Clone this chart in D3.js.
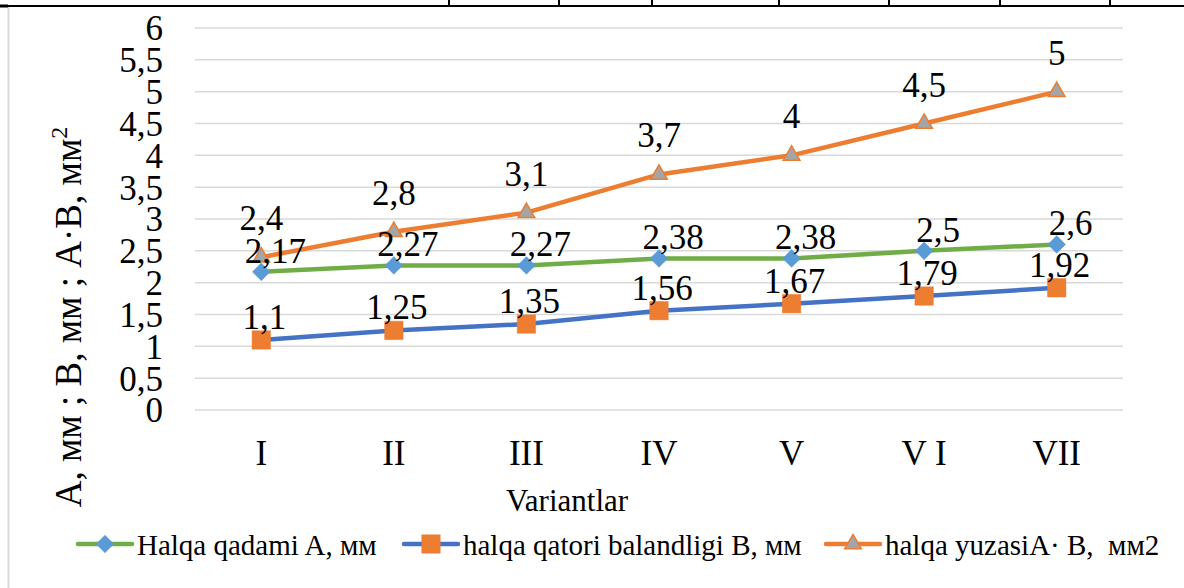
<!DOCTYPE html>
<html>
<head>
<meta charset="utf-8">
<script src="https://cdn.jsdelivr.net/npm/d3@7"></script>
<style>
  html, body { margin: 0; padding: 0; background: #fff; }
  svg { display: block; }
  svg text { font-family: "Liberation Serif", "Times New Roman", serif; }
</style>
</head>
<body>
<svg id="chart" width="1184" height="588"></svg>
<script>
// ---- data ----
const categories = ["I", "II", "III", "IV", "V", "V I", "VII"];
const seriesA = [2.17, 2.27, 2.27, 2.38, 2.38, 2.5, 2.6];        // Halqa qadami A, мм
const seriesB = [1.1, 1.25, 1.35, 1.56, 1.67, 1.79, 1.92];       // halqa qatori balandligi B, мм
const seriesAB = [2.4, 2.8, 3.1, 3.7, 4, 4.5, 5];                // halqa yuzasi A·B, мм2
const yTicks = [0, 0.5, 1, 1.5, 2, 2.5, 3, 3.5, 4, 4.5, 5, 5.5, 6];
const seriesNames = ["Halqa qadami A, мм", "halqa qatori balandligi B, мм", "halqa yuzasiA· B,  мм2"];
const xTitle = "Variantlar";

const SERIF = "'Liberation Serif', 'Times New Roman', serif";
const svg = d3.select("#chart");
const W = 1184, H = 588;

// decorative table border above the chart
svg.append("rect").attr("x", 0).attr("y", 0).attr("width", W).attr("height", H).attr("fill", "#fff");
svg.append("line").attr("x1", 8.5).attr("x2", 8.5).attr("y1", 6).attr("y2", H)
  .attr("stroke", "#d9d9d9").attr("stroke-width", 2);
svg.append("line").attr("x1", 0).attr("x2", W).attr("y1", 6).attr("y2", 6)
  .attr("stroke", "#000").attr("stroke-width", 2);
svg.append("line").attr("x1", 0).attr("x2", 8).attr("y1", 6).attr("y2", 6)
  .attr("stroke", "#000").attr("stroke-width", 3);
[449, 559, 652, 779, 889, 1000, 1110].forEach(xx => {
  svg.append("line").attr("x1", xx).attr("x2", xx).attr("y1", 0).attr("y2", 6)
    .attr("stroke", "#000").attr("stroke-width", 2);
});

// scales
const x = d3.scaleBand().domain(categories).range([195, 1123]);
const cx = c => x(c) + x.bandwidth() / 2;
const y = d3.scaleLinear().domain([0, 6]).range([410, 28]);

// gridlines
svg.append("g").selectAll("line").data(yTicks).join("line")
  .attr("x1", 195).attr("x2", 1123)
  .attr("y1", d => y(d)).attr("y2", d => y(d))
  .attr("stroke", "#d9d9d9").attr("stroke-width", 1.5);

const fmt = v => String(v).replace(".", ",");

// y tick labels
const yAxis = d3.axisLeft(y).tickValues(yTicks).tickFormat(fmt).tickSize(0).tickPadding(0);
const gy = svg.append("g").attr("transform", "translate(163,0)").call(yAxis);
gy.attr("font-family", null).attr("font-size", null);
gy.select(".domain").remove();
gy.selectAll("text").attr("font-size", 35).attr("fill", "#000")
  .style("font-family", SERIF).attr("dy", "0.34em");

// x tick labels
const xAxis = d3.axisBottom(x).tickSize(0).tickPadding(0);
const gx = svg.append("g").attr("transform", "translate(0,440)").call(xAxis);
gx.attr("font-family", null).attr("font-size", null);
gx.select(".domain").remove();
gx.selectAll("text").attr("font-size", 35).attr("fill", "#000")
  .style("font-family", SERIF).attr("dy", "0.72em");

// axis titles
svg.append("text").attr("x", 567).attr("y", 511).attr("text-anchor", "middle")
  .attr("font-size", 31).attr("fill", "#000").style("font-family", SERIF).text(xTitle);

const yt = svg.append("text")
  .attr("transform", "translate(81,317) rotate(-90)")
  .attr("text-anchor", "middle").attr("font-size", 37).attr("fill", "#000")
  .style("font-family", SERIF);
yt.append("tspan").text("A, мм ; B, мм ; A·B, мм");
yt.append("tspan").attr("font-size", 24).attr("dy", "-0.6em").text("2");

// series
const series = [
  { name: seriesNames[0], values: seriesA, line: "#70AD47", marker: "diamond", fill: "#5B9BD5", stroke: "#5B9BD5", ldx: 14, ldy: -9 },
  { name: seriesNames[1], values: seriesB, line: "#4472C4", marker: "square", fill: "#ED7D31", stroke: "#ED7D31", ldx: 3, ldy: -11 },
  { name: seriesNames[2], values: seriesAB, line: "#ED7D31", marker: "triangle", fill: "#A5A5A5", stroke: "#ED7D31", ldx: 0, ldy: -27 }
];

function markerPath(type) {
  if (type === "diamond") return d3.symbol().type(d3.symbolDiamond2).size(200)();
  if (type === "square") return d3.symbol().type(d3.symbolSquare).size(340)();
  return d3.symbol().type(d3.symbolTriangle).size(120)();
}

const lineGen = d3.line().x((d, i) => cx(categories[i])).y(d => y(d));

series.forEach(s => {
  svg.append("path").datum(s.values).attr("d", lineGen)
    .attr("fill", "none").attr("stroke", s.line).attr("stroke-width", 4.5)
    .attr("stroke-linejoin", "round").attr("stroke-linecap", "round");
});
series.forEach(s => {
  svg.append("g").selectAll("path").data(s.values).join("path")
    .attr("d", markerPath(s.marker))
    .attr("transform", (d, i) => `translate(${cx(categories[i])},${y(d)})`)
    .attr("fill", s.fill).attr("stroke", s.stroke).attr("stroke-width", s.marker === "triangle" ? 1.5 : 0.5);
});
series.forEach(s => {
  svg.append("g").selectAll("text").data(s.values).join("text")
    .attr("x", (d, i) => cx(categories[i]) + s.ldx)
    .attr("y", d => y(d) + s.ldy)
    .attr("text-anchor", "middle").attr("font-size", 35).attr("fill", "#000")
    .style("font-family", SERIF)
    .text(fmt);
});

// legend
const legendX = [78, 404, 826];
const lg = svg.append("g");
series.forEach((s, i) => {
  const g = lg.append("g").attr("transform", `translate(${legendX[i]},544)`);
  g.append("line").attr("x1", 0).attr("x2", 54).attr("y1", 0).attr("y2", 0)
    .attr("stroke", s.line).attr("stroke-width", 4.5).attr("stroke-linecap", "round");
  g.append("path").attr("d", markerPath(s.marker)).attr("transform", "translate(27,0)")
    .attr("fill", s.fill).attr("stroke", s.stroke).attr("stroke-width", s.marker === "triangle" ? 1.5 : 0.5);
  g.append("text").attr("x", 59).attr("y", 11).attr("font-size", 29).attr("fill", "#000")
    .style("font-family", SERIF).style("white-space", "pre").text(s.name);
});
</script>
</body>
</html>
